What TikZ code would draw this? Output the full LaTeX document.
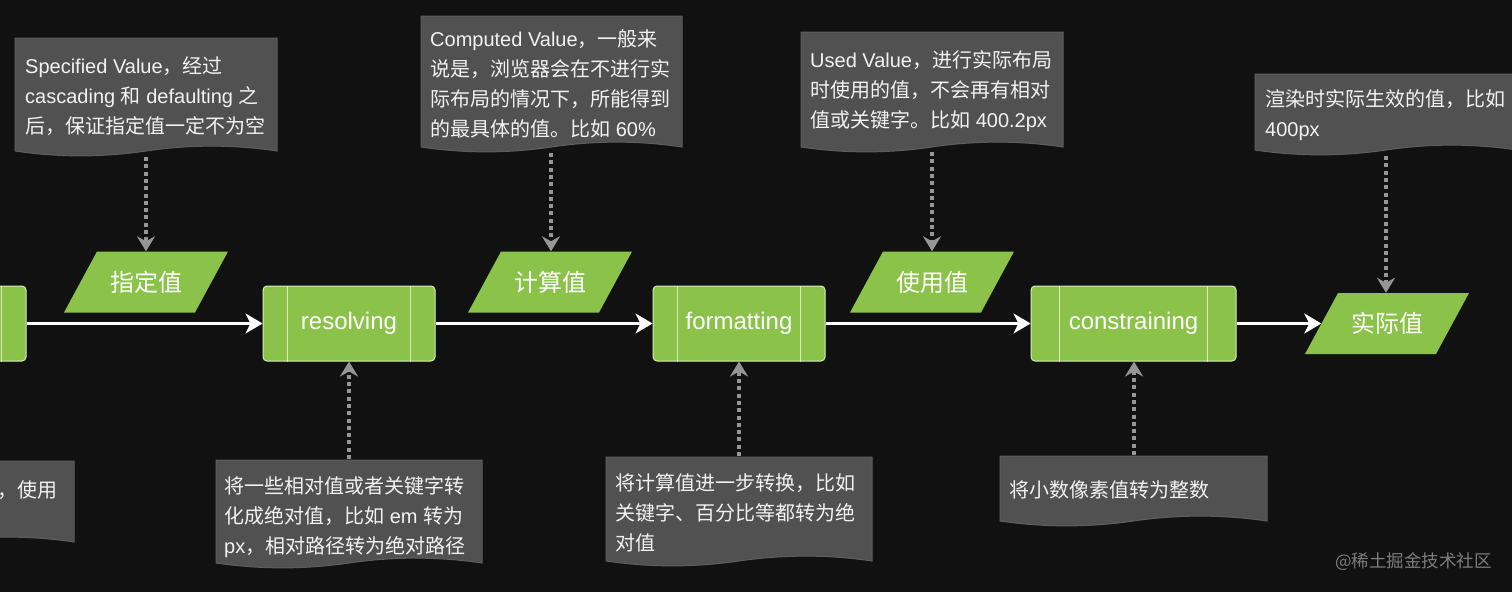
\documentclass[tikz,border=0pt]{standalone}
\usepackage{fontspec}
\setmainfont{Liberation Sans}
\newfontfamily\cjk{Noto Sans CJK SC}
\usetikzlibrary{arrows.meta,calc}
\newcommand\z[1]{{\cjk #1}}
\definecolor{bg}{RGB}{17,17,17}
\definecolor{notefill}{RGB}{81,81,81}
\definecolor{noteedge}{RGB}{94,94,94}
\definecolor{procgreen}{RGB}{139,195,74}
\definecolor{procedge}{RGB}{214,236,190}
\definecolor{dotgray}{RGB}{150,150,150}
\definecolor{marktext}{RGB}{125,125,125}
\definecolor{notetxt}{RGB}{242,242,242}
% document-shaped note: L T R B
\newcommand\docnote[4]{%
  \filldraw[notebg] (#1,#2) -- (#3,#2) -- (#3,#4)
    .. controls ({#3-(#3-#1)/6},{#4-6.5}) and ({(#1+#3)/2+(#3-#1)/6},{#4-6.5}) .. ({(#1+#3)/2},#4)
    .. controls ({(#1+#3)/2-(#3-#1)/6},{#4+6.5}) and ({#1+(#3-#1)/6},{#4+6.5}) .. (#1,#4)
    -- cycle;}
% parallelogram: name cx cy text
\newcommand\paranode[4]{%
  \fill[procgreen] ({#2-49},{#3-30.5}) -- ({#2+82},{#3-30.5}) -- ({#2+49},{#3+30.5}) -- ({#2-82},{#3+30.5}) -- cycle;
  \node[paratext] (#1) at (#2,#3) {#4};}
% inner lines of a process box
\newcommand\proclines[2]{%
  \draw[procline] ([xshift=#2]#1.north west) -- ([xshift=#2]#1.south west);
  \draw[procline] ([xshift=-#2]#1.north east) -- ([xshift=-#2]#1.south east);}
\begin{document}
\begin{tikzpicture}[x=1pt,y=-1pt,
  notebg/.style={fill=notefill,draw=noteedge,line width=1pt},
  notetext/.style={anchor=west,align=left,inner sep=0pt,text=notetxt,font=\fontsize{20}{30}\selectfont},
  proc/.style={draw=procedge,fill=procgreen,line width=1pt,rounded corners=4pt,minimum height=75pt,inner sep=0pt,text=white,font=\fontsize{24}{28}\selectfont},
  procline/.style={draw=procedge,line width=1pt},
  paratext/.style={minimum width=131pt,minimum height=61pt,inner sep=0pt,text=white,font=\cjk\fontsize{24}{28}\selectfont},
  mainarrow/.style={draw=white,line width=3pt,-{Stealth[length=17pt,width=20pt,inset=5pt]}},
  dotarrow/.style={draw=dotgray,line width=4pt,dash pattern=on 4pt off 3.3pt,-{Stealth[length=15pt,width=18pt,inset=5pt,fill=dotgray]}},
]
\useasboundingbox (0,0) rectangle (1512,592);
\fill[bg] (0,0) rectangle (1512,592);
\clip (0,0) rectangle (1512,592);

% ---- notes (top)
\docnote{15}{38}{277}{151}
\node[notetext] (n1) at (25,96) {Specified Value\z{，经过}\\cascading \z{和} defaulting \z{之}\\\z{后，保证指定值一定不为空}};
\docnote{421}{16}{682}{147}
\node[notetext] (n2) at (430,84) {Computed Value\z{，一般来}\\\z{说是，浏览器会在不进行实}\\\z{际布局的情况下，所能得到}\\\z{的最具体的值。比如} 60\%};
\docnote{801}{32}{1063}{147}
\node[notetext] (n3) at (810,91.5) {Used Value\z{，进行实际布局}\\\z{时使用的值，不会再有相对}\\\z{值或关键字。比如} 400.2px};
\docnote{1255}{74}{1517}{150}
\node[notetext] (n4) at (1265,115) {\z{渲染时实际生效的值，比如}\\400px};

% ---- notes (bottom)
\docnote{-188}{461}{74}{542}
\node[notetext,anchor=east] (nl) at (58,490) {\z{，使用}};
\docnote{216}{460}{482}{563}
\node[notetext] (nr) at (224,517) {\z{将一些相对值或者关键字转}\\\z{化成绝对值，比如} em \z{转为}\\px\z{，相对路径转为绝对路径}};
\docnote{606}{457}{872}{561}
\node[notetext] (nf) at (615,513) {\z{将计算值进一步转换，比如}\\\z{关键字、百分比等都转为绝}\\\z{对值}};
\docnote{1000}{456}{1267}{521}
\node[notetext] (nc) at (1009,490) {\z{将小数像素值转为整数}};

% ---- process boxes
\node[proc,minimum width=176pt] (init) at (-62,323.5) {};
\node[proc,minimum width=172pt] (res) at (349,323.5) {resolving};
\node[proc,minimum width=172pt] (fmt) at (739,323.5) {formatting};
\node[proc,minimum width=205pt] (con) at (1133.5,323.5) {constraining};
\proclines{init}{25pt}
\proclines{res}{25pt}
\proclines{fmt}{25pt}
\proclines{con}{29pt}

% ---- value parallelograms
\paranode{spec}{146}{282}{指定值}
\paranode{comp}{550}{282}{计算值}
\paranode{used}{932}{282}{使用值}
\paranode{act}{1387}{323.5}{实际值}

% ---- main flow
\draw[mainarrow] (init.east) -- (res.west);
\draw[mainarrow] (res.east) -- (fmt.west);
\draw[mainarrow] (fmt.east) -- (con.west);
\draw[mainarrow] (con.east) -- (act.west);

% ---- dotted connectors
\coordinate (c1) at (146,157);
\coordinate (c2) at (551,153);
\coordinate (c3) at (932,152);
\coordinate (c4) at (1386,156);
\draw[dotarrow] (c1) -- (c1 |- spec.north);
\draw[dotarrow] (c2) -- (c2 |- comp.north);
\draw[dotarrow] (c3) -- (c3 |- used.north);
\draw[dotarrow] (c4) -- (c4 |- act.north);
\coordinate (c5) at (349,459);
\coordinate (c6) at (739,456);
\coordinate (c7) at (1134,455);
\draw[dotarrow] (c5) -- (c5 |- res.south);
\draw[dotarrow] (c6) -- (c6 |- fmt.south);
\draw[dotarrow] (c7) -- (c7 |- con.south);

% ---- watermark
\node[anchor=east,inner sep=0pt,text=marktext,font=\cjk\fontsize{17.5}{20}\selectfont] (wm) at (1492,562) {@稀土掘金技术社区};
\end{tikzpicture}
\end{document}
